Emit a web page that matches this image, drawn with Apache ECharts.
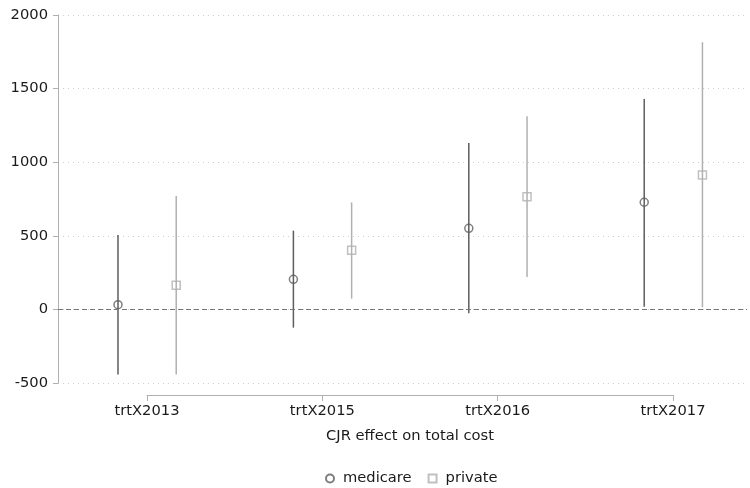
<!DOCTYPE html>
<html>
<head>
<meta charset="utf-8">
<script src="https://cdn.jsdelivr.net/npm/echarts@6/dist/echarts.min.js"></script>
<style>html,body{margin:0;padding:0;background:#fff}#c{width:750px;height:488px}</style>
</head>
<body>
<div id="c"></div>
<script>
// Coefficient estimates with 95% confidence intervals
const categories = ['trtX2013', 'trtX2015', 'trtX2016', 'trtX2017'];
const medicareEst = [32, 204, 551, 728];
const medicareLow = [-443, -124, -27, 18];
const medicareHigh = [505, 535, 1131, 1429];
const privateEst = [164, 401, 766, 913];
const privateLow = [-443, 73, 220, 14];
const privateHigh = [770, 727, 1313, 1815];
const yTicks = [-500, 0, 500, 1000, 1500, 2000];

const OFFSET = 0.166;
const FONT = 'DejaVu Sans';
const FS = 14.7;
const DARK = '#5e5e5e';
const LIGHT = '#b0b0b0';

function barData(low, high, off) {
  return categories.map((c, i) => [i + off, low[i], high[i]]);
}
function pointData(est, off) {
  return categories.map((c, i) => [i + off, est[i]]);
}
function errorBar(color) {
  return function (params, api) {
    const p1 = api.coord([api.value(0), api.value(1)]);
    const p2 = api.coord([api.value(0), api.value(2)]);
    return {
      type: 'line',
      shape: { x1: p1[0], y1: p1[1], x2: p2[0], y2: p2[1] },
      style: { stroke: color, lineWidth: 1.5 }
    };
  };
}

const chart = echarts.init(document.getElementById('c'), null, { renderer: 'canvas' });
chart.setOption({
  animation: false,
  textStyle: { fontFamily: FONT },
  grid: [
    { left: 58, right: 3, top: 15, bottom: 105 },
    // category axis spans only from the first to the last category
    { left: 147, right: 77, top: 394, height: 1 }
  ],
  xAxis: [
    { gridIndex: 0, type: 'value', min: -0.508, max: 3.42, show: false },
    {
      gridIndex: 1, type: 'value', min: 0, max: categories.length - 1, interval: 1,
      position: 'bottom',
      axisLine: { show: true, onZero: false, lineStyle: { color: LIGHT, width: 1 } },
      axisTick: { show: true, length: 6, lineStyle: { color: LIGHT } },
      splitLine: { show: false },
      axisLabel: {
        margin: 9, fontSize: FS, color: '#1a1a1a', fontFamily: FONT,
        formatter: v => categories[Math.round(v)] || ''
      },
      name: 'CJR effect on total cost',
      nameLocation: 'middle', nameGap: 34,
      nameTextStyle: { fontSize: FS, color: '#1a1a1a', fontFamily: FONT }
    }
  ],
  yAxis: [
    {
      gridIndex: 0, type: 'value',
      min: yTicks[0], max: yTicks[yTicks.length - 1], interval: yTicks[1] - yTicks[0],
      axisLine: { show: true, onZero: false, lineStyle: { color: LIGHT, width: 1 } },
      axisTick: { show: true, length: 5, lineStyle: { color: LIGHT } },
      axisLabel: {
        margin: 10, fontSize: FS, color: '#1a1a1a', fontFamily: FONT,
        formatter: v => String(v)
      },
      splitLine: { show: true, lineStyle: { color: '#cfcfcf', type: [1, 4], width: 1 } }
    },
    { gridIndex: 1, type: 'value', show: false }
  ],
  legend: {
    left: 320, top: 466,
    itemWidth: 8, itemHeight: 8, itemGap: 16,
    textStyle: { fontSize: FS, color: '#1a1a1a', fontFamily: FONT, padding: [0, 0, 0, 4] },
    data: [
      { name: 'medicare', icon: 'circle' },
      { name: 'private', icon: 'rect' }
    ]
  },
  series: [
    {
      name: 'medicare CI', type: 'custom', xAxisIndex: 0, yAxisIndex: 0,
      renderItem: errorBar(DARK), data: barData(medicareLow, medicareHigh, -OFFSET),
      encode: { x: 0, y: [1, 2] }, z: 2,
      markLine: {
        silent: true, symbol: 'none', label: { show: false },
        lineStyle: { color: '#777', type: [5, 3], width: 1 },
        data: [{ yAxis: 0 }]
      }
    },
    {
      name: 'private CI', type: 'custom', xAxisIndex: 0, yAxisIndex: 0,
      renderItem: errorBar(LIGHT), data: barData(privateLow, privateHigh, OFFSET),
      encode: { x: 0, y: [1, 2] }, z: 2
    },
    {
      name: 'medicare', type: 'scatter', xAxisIndex: 0, yAxisIndex: 0,
      symbol: 'circle', symbolSize: 8,
      itemStyle: { color: 'rgba(255,255,255,0)', borderColor: DARK, borderWidth: 1.5 },
      data: pointData(medicareEst, -OFFSET), z: 3
    },
    {
      name: 'private', type: 'scatter', xAxisIndex: 0, yAxisIndex: 0,
      symbol: 'rect', symbolSize: 8,
      itemStyle: { color: 'rgba(255,255,255,0)', borderColor: LIGHT, borderWidth: 1.5 },
      data: pointData(privateEst, OFFSET), z: 3
    }
  ]
});
</script>
</body>
</html>
